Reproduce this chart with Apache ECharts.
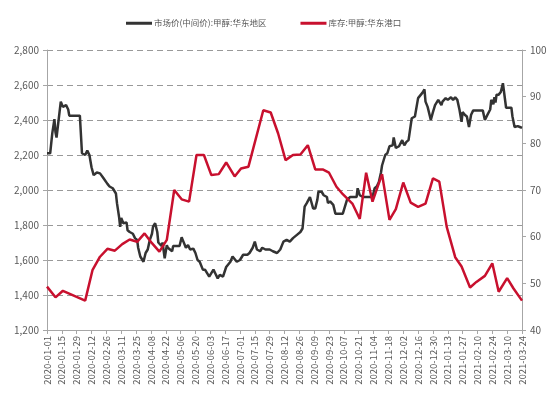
<!DOCTYPE html>
<html>
<head>
<meta charset="utf-8">
<script src="https://cdn.jsdelivr.net/npm/echarts@6/dist/echarts.min.js"></script>
<style>
  html, body { margin: 0; padding: 0; background: #fff; }
  #main { width: 550px; height: 397px; }
</style>
</head>
<body>
<div id="main"></div>
<script type="text/javascript">
  // 日期轴：2020-01-01 ~ 2021-03-24 逐日
  var startDate = '2020-01-01';
  var endDate = '2021-03-24';
  var dates = [];
  (function () {
    var d = new Date(startDate + 'T00:00:00Z');
    var end = new Date(endDate + 'T00:00:00Z');
    while (d <= end) {
      dates.push(d.toISOString().slice(0, 10));
      d.setUTCDate(d.getUTCDate() + 1);
    }
  })();

  var seriesNames = ['市场价(中间价):甲醇:华东地区', '库存:甲醇:华东港口'];

  // 市场价(中间价) 元/吨，左轴
  var price = [
    ['2020-01-01', 2210], ['2020-01-04', 2210], ['2020-01-06', 2325], ['2020-01-08', 2405],
    ['2020-01-09', 2330], ['2020-01-10', 2300], ['2020-01-14', 2505], ['2020-01-16', 2475],
    ['2020-01-19', 2485], ['2020-01-21', 2460], ['2020-01-22', 2425], ['2020-02-01', 2425],
    ['2020-02-03', 2210], ['2020-02-06', 2200], ['2020-02-08', 2225], ['2020-02-10', 2200],
    ['2020-02-12', 2130], ['2020-02-14', 2085], ['2020-02-17', 2100], ['2020-02-20', 2095],
    ['2020-02-23', 2070], ['2020-02-27', 2035], ['2020-02-29', 2020], ['2020-03-03', 2010],
    ['2020-03-06', 1980], ['2020-03-07', 1925], ['2020-03-09', 1845], ['2020-03-10', 1790],
    ['2020-03-11', 1840], ['2020-03-13', 1810], ['2020-03-16', 1815], ['2020-03-17', 1770],
    ['2020-03-19', 1760], ['2020-03-22', 1750], ['2020-03-24', 1725], ['2020-03-26', 1715],
    ['2020-03-27', 1670], ['2020-03-29', 1620], ['2020-04-01', 1590], ['2020-04-03', 1640],
    ['2020-04-05', 1660], ['2020-04-07', 1715], ['2020-04-09', 1750], ['2020-04-10', 1790],
    ['2020-04-12', 1810], ['2020-04-14', 1760], ['2020-04-15', 1700], ['2020-04-18', 1680],
    ['2020-04-19', 1700], ['2020-04-21', 1610], ['2020-04-23', 1685], ['2020-04-24', 1670],
    ['2020-04-28', 1650], ['2020-04-29', 1680], ['2020-05-03', 1680], ['2020-05-05', 1680],
    ['2020-05-07', 1730], ['2020-05-08', 1715], ['2020-05-11', 1670], ['2020-05-13', 1685],
    ['2020-05-15', 1660], ['2020-05-18', 1665], ['2020-05-20', 1640], ['2020-05-21', 1620],
    ['2020-05-22', 1600], ['2020-05-24', 1590], ['2020-05-27', 1545], ['2020-05-29', 1545],
    ['2020-05-31', 1525], ['2020-06-02', 1505], ['2020-06-06', 1545], ['2020-06-08', 1520],
    ['2020-06-10', 1495], ['2020-06-12', 1515], ['2020-06-15', 1505], ['2020-06-18', 1560],
    ['2020-06-22', 1590], ['2020-06-24', 1620], ['2020-06-28', 1590], ['2020-07-01', 1600],
    ['2020-07-04', 1630], ['2020-07-08', 1630], ['2020-07-10', 1640], ['2020-07-13', 1670],
    ['2020-07-15', 1705], ['2020-07-17', 1660], ['2020-07-20', 1650], ['2020-07-22', 1670],
    ['2020-07-25', 1660], ['2020-07-29', 1660], ['2020-08-01', 1650], ['2020-08-05', 1640],
    ['2020-08-08', 1660], ['2020-08-11', 1705], ['2020-08-14', 1715], ['2020-08-17', 1705],
    ['2020-08-20', 1725], ['2020-08-24', 1745], ['2020-08-27', 1760], ['2020-08-29', 1780],
    ['2020-08-31', 1905], ['2020-09-02', 1925], ['2020-09-05', 1960], ['2020-09-08', 1895],
    ['2020-09-10', 1895], ['2020-09-12', 1945], ['2020-09-13', 1990], ['2020-09-16', 1990],
    ['2020-09-18', 1970], ['2020-09-21', 1960], ['2020-09-22', 1925], ['2020-09-24', 1935],
    ['2020-09-27', 1915], ['2020-09-29', 1865], ['2020-10-03', 1865], ['2020-10-06', 1865],
    ['2020-10-10', 1945], ['2020-10-13', 1960], ['2020-10-16', 1960], ['2020-10-19', 1960],
    ['2020-10-20', 2010], ['2020-10-22', 1970], ['2020-10-25', 1960], ['2020-10-29', 1960],
    ['2020-11-01', 1960], ['2020-11-03', 1960], ['2020-11-05', 2010], ['2020-11-07', 2020],
    ['2020-11-09', 2045], ['2020-11-11', 2100], ['2020-11-12', 2140], ['2020-11-15', 2200],
    ['2020-11-17', 2210], ['2020-11-19', 2250], ['2020-11-22', 2255], ['2020-11-23', 2300],
    ['2020-11-25', 2240], ['2020-11-28', 2250], ['2020-12-01', 2285], ['2020-12-03', 2255],
    ['2020-12-05', 2275], ['2020-12-07', 2285], ['2020-12-10', 2410], ['2020-12-13', 2420],
    ['2020-12-16', 2525], ['2020-12-20', 2555], ['2020-12-21', 2550], ['2020-12-22', 2575],
    ['2020-12-23', 2505], ['2020-12-25', 2475], ['2020-12-28', 2400], ['2020-12-30', 2445],
    ['2021-01-01', 2485], ['2021-01-04', 2515], ['2021-01-07', 2485], ['2021-01-08', 2505],
    ['2021-01-11', 2525], ['2021-01-13', 2515], ['2021-01-16', 2530], ['2021-01-18', 2515],
    ['2021-01-20', 2530], ['2021-01-22', 2515], ['2021-01-23', 2515], ['2021-01-24', 2460],
    ['2021-01-26', 2390], ['2021-01-27', 2445], ['2021-01-29', 2430], ['2021-01-31', 2420],
    ['2021-02-02', 2360], ['2021-02-04', 2430], ['2021-02-06', 2455], ['2021-02-09', 2455],
    ['2021-02-12', 2455], ['2021-02-15', 2455], ['2021-02-17', 2400], ['2021-02-19', 2425],
    ['2021-02-22', 2460], ['2021-02-23', 2515], ['2021-02-25', 2490], ['2021-02-26', 2530],
    ['2021-02-27', 2500], ['2021-02-28', 2545], ['2021-03-02', 2545], ['2021-03-04', 2560],
    ['2021-03-06', 2610], ['2021-03-07', 2620], ['2021-03-09', 2470], ['2021-03-11', 2470],
    ['2021-03-14', 2470], ['2021-03-15', 2420], ['2021-03-17', 2360], ['2021-03-20', 2365],
    ['2021-03-22', 2360], ['2021-03-24', 2355]
  ];

  // 库存 万吨，右轴（周度）
  var stock = [
    ['2020-01-01', 49.3], ['2020-01-09', 47.0], ['2020-01-16', 48.4], ['2020-02-06', 46.3],
    ['2020-02-13', 52.9], ['2020-02-20', 55.7], ['2020-02-27', 57.4], ['2020-03-05', 57.0],
    ['2020-03-12', 58.4], ['2020-03-19', 59.4], ['2020-03-26', 58.9], ['2020-04-02', 60.7],
    ['2020-04-09', 58.6], ['2020-04-16', 56.8], ['2020-04-23', 59.3], ['2020-04-30', 70.0],
    ['2020-05-07', 68.0], ['2020-05-14', 67.5], ['2020-05-21', 77.5], ['2020-05-28', 77.5],
    ['2020-06-04', 73.2], ['2020-06-11', 73.4], ['2020-06-18', 75.9], ['2020-06-26', 72.9],
    ['2020-07-02', 74.6], ['2020-07-09', 75.0], ['2020-07-23', 87.1], ['2020-07-30', 86.6],
    ['2020-08-06', 82.1], ['2020-08-13', 76.4], ['2020-08-20', 77.5], ['2020-08-27', 77.6],
    ['2020-09-03', 79.6], ['2020-09-10', 74.4], ['2020-09-17', 74.4], ['2020-09-23', 73.7],
    ['2020-09-30', 70.7], ['2020-10-06', 69.1], ['2020-10-15', 67.1], ['2020-10-22', 63.8],
    ['2020-10-28', 73.7], ['2020-11-03', 67.5], ['2020-11-12', 73.4], ['2020-11-19', 63.6],
    ['2020-11-25', 65.9], ['2020-12-02', 71.6], ['2020-12-09', 67.3], ['2020-12-16', 66.4],
    ['2020-12-23', 67.1], ['2020-12-30', 72.5], ['2021-01-05', 71.8], ['2021-01-12', 62.1],
    ['2021-01-20', 55.6], ['2021-01-26', 53.6], ['2021-02-03', 49.1], ['2021-02-09', 50.3],
    ['2021-02-17', 51.6], ['2021-02-24', 54.3], ['2021-03-02', 48.2], ['2021-03-10', 51.1],
    ['2021-03-16', 48.9], ['2021-03-24', 46.3]
  ];

  var chart = echarts.init(document.getElementById('main'));

  var labelColor = '#595959';
  var axisColor = '#a6a6a6';
  var fontStack = '"Noto Sans CJK SC", "Liberation Sans", sans-serif';

  var option = {
    animation: false,
    textStyle: { fontFamily: fontStack },
    legend: {
      top: 14,
      left: 121,
      itemGap: 34,
      itemWidth: 26,
      itemHeight: 3,
      icon: 'rect',
      textStyle: { color: labelColor, fontSize: 8.5, padding: [0, 0, 0, -3] },
      data: seriesNames
    },
    grid: {
      left: 47,
      right: 28,
      top: 50,
      bottom: 67,
      containLabel: false
    },
    xAxis: {
      type: 'category',
      data: dates,
      boundaryGap: false,
      axisLine: { lineStyle: { color: axisColor } },
      axisTick: { show: true, interval: 13, length: 4, lineStyle: { color: axisColor } },
      axisLabel: {
        interval: 13,
        rotate: 90,
        color: labelColor,
        fontSize: 9.5,
        margin: 6
      },
      splitLine: { show: false }
    },
    yAxis: [
      {
        type: 'value',
        min: 1200,
        max: 2800,
        interval: 200,
        axisLine: { show: true, lineStyle: { color: axisColor } },
        axisTick: { show: true, length: 4, lineStyle: { color: axisColor } },
        axisLabel: {
          color: labelColor,
          fontSize: 10,
          margin: 8,
          formatter: function (v) { return v.toLocaleString('en-US'); }
        },
        splitLine: { show: true, lineStyle: { color: '#999999', type: [6, 4] } }
      },
      {
        type: 'value',
        min: 40,
        max: 100,
        interval: 10,
        axisLine: { show: true, lineStyle: { color: axisColor } },
        axisTick: { show: true, length: 4, lineStyle: { color: axisColor } },
        axisLabel: { color: labelColor, fontSize: 10, margin: 8 },
        splitLine: { show: false }
      }
    ],
    series: [
      {
        name: seriesNames[0],
        type: 'line',
        yAxisIndex: 0,
        symbol: 'none',
        lineStyle: { color: '#333333', width: 2.5 },
        itemStyle: { color: '#333333' },
        data: price
      },
      {
        name: seriesNames[1],
        type: 'line',
        yAxisIndex: 1,
        symbol: 'none',
        lineStyle: { color: '#c8102e', width: 2.5 },
        itemStyle: { color: '#c8102e' },
        data: stock
      }
    ]
  };

  chart.setOption(option);
</script>
</body>
</html>
